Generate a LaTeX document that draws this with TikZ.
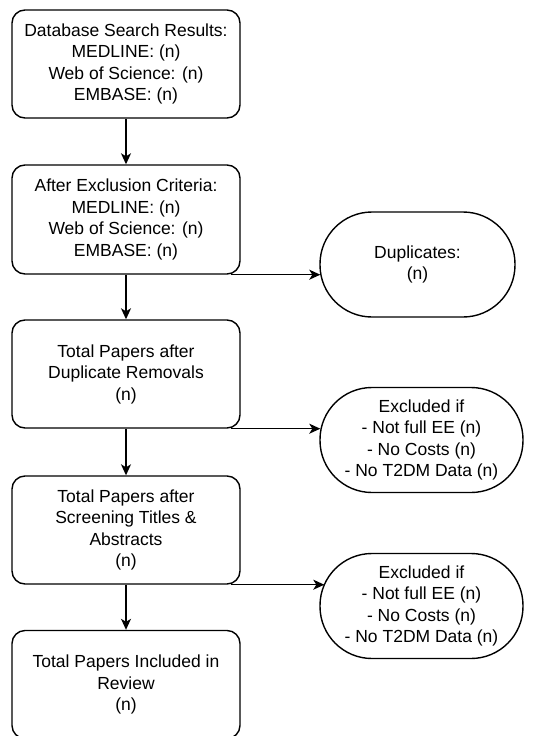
\documentclass[tikz,border=0pt]{standalone}
\usepackage{fontspec}
\setmainfont{Liberation Sans}
\usetikzlibrary{positioning,arrows.meta,calc}
\tikzset{
  >={Stealth[length=11pt, width=10pt, inset=3pt]},
  boite/.style={draw=black, fill=white, line width=1.4pt, rounded corners=13pt, align=center,
    inner sep=0pt, minimum width=228pt, minimum height=#1},
  boite/.default=108pt,
  exclu/.style={draw=black, fill=white, line width=1.4pt, rounded corners=52pt, align=center,
    inner sep=0pt, minimum height=105pt, minimum width=#1},
  exclu/.default=203pt,
  fleche/.style={->, line width=1.4pt, draw=black},
}

\begin{document}
\begin{tikzpicture}[x=1pt, y=-1pt, font=\fontsize{17.5}{21.5}\selectfont]
    \useasboundingbox (0,0) rectangle (535,736);
    % Etapes
    \node[boite] (recherche) at (126,64)    {Database Search Results:\\ MEDLINE: (n)\\ Web of Science: (n)\\ EMBASE: (n)};
    \node[boite=109pt] (criteres) at (126,219.5) {After Exclusion Criteria:\\ MEDLINE: (n)\\ Web of Science: (n)\\ EMBASE: (n)};
    \node[boite] (apresdoub) at (126,374)   {Total Papers after\\ Duplicate Removals\\ (n)};
    \node[boite] (criblage)  at (126,530)   {Total Papers after\\ Screening Titles \&\\ Abstracts\\ (n)};
    \node[boite] (inclus)    at (126,684.5) {Total Papers Included in\\ Review\\ (n)};
    % Exclusions
    \node[exclu=195pt] (doublons) at (417.5,264.5) {Duplicates:\\ (n)};
    \node[exclu] (exclu1) at (421.5,440) {Excluded if\\ - Not full EE (n)\\ - No Costs (n)\\ - No T2DM Data (n)};
    \node[exclu] (exclu2) at (421.5,606) {Excluded if\\ - Not full EE (n)\\ - No Costs (n)\\ - No T2DM Data (n)};
    % Fleches
    \draw[fleche] (recherche) -- (criteres);
    \draw[fleche] (criteres) -- (apresdoub);
    \draw[fleche] (apresdoub) -- (criblage);
    \draw[fleche] (criblage) -- (inclus);
    \draw[fleche] ($(criteres.south east)+(-10,0)$) -- ($(doublons.west |- criteres.south)+(1,0)$);
    \draw[fleche] ($(apresdoub.south east)+(-10,0)$) -- ($(exclu1.west |- apresdoub.south)+(1,0)$);
    \draw[fleche] ($(criblage.south east)+(-10,0)$) -- ($(exclu2.west |- criblage.south)+(5,0)$);
  \end{tikzpicture}
\end{document}
